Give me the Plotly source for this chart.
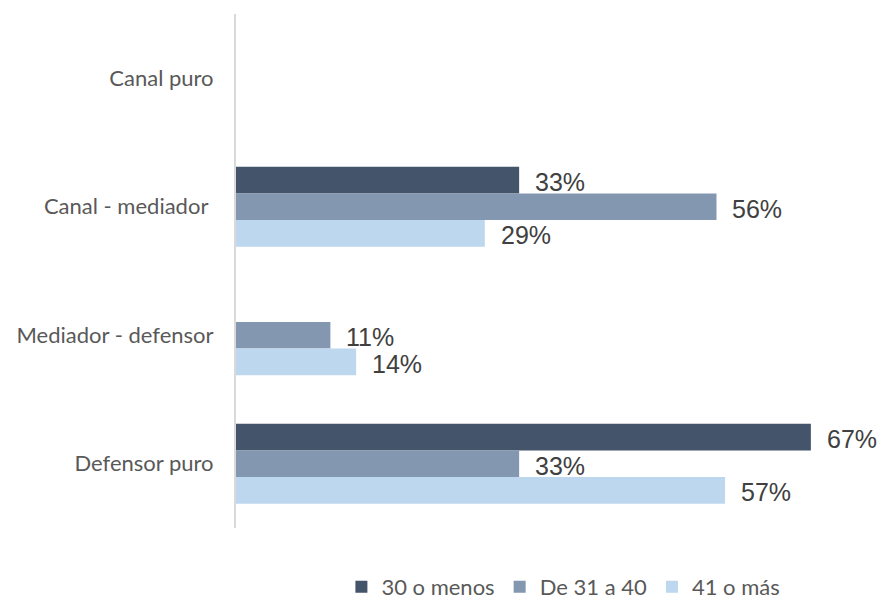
import plotly.graph_objects as go

# Categories (top to bottom) and series values in percent; None = no bar
categories = ["Canal puro", "Canal - mediador", "Mediador - defensor", "Defensor puro"]
category_labels = ["Canal puro", "Canal - mediador\u00a0", "Mediador - defensor", "Defensor puro"]
series_names = ["30 o menos", "De 31 a 40", "41 o más"]
vals_30_menos = [None, 33, None, 67]
vals_31_40 = [None, 56, 11, 33]
vals_41_mas = [None, 29, 14, 57]
colors = ["#44546a", "#8497b0", "#bdd7ee"]

series_values = [vals_30_menos, vals_31_40, vals_41_mas]

fig = go.Figure()
for name, vals, col in zip(series_names, series_values, colors):
    fig.add_trace(go.Bar(
        y=categories, x=vals, name=name, orientation="h",
        marker=dict(color=col, line=dict(width=0)),
        hoverinfo="skip",
    ))

# Value labels placed just past the end of each bar
bar_px = 26.7
shifts = [bar_px, 0, -bar_px]
annotations = []
for vals, shift in zip(series_values, shifts):
    for cat, v in zip(categories, vals):
        if v is None:
            continue
        annotations.append(dict(
            x=v, y=cat, xref="x", yref="y", text=f"{v}%",
            showarrow=False, xanchor="left", yanchor="middle",
            xshift=14, yshift=shift - 2,
            font=dict(family="Liberation Sans, Arial, sans-serif", size=25, color="#404040"),
        ))

fig.update_layout(
    width=881, height=599,
    margin=dict(l=236, r=25, t=14, b=71),
    paper_bgcolor="white", plot_bgcolor="white",
    barmode="group", bargap=0.377, bargroupgap=0,
    annotations=annotations,
    showlegend=True,
    legend=dict(
        orientation="h", x=0.17, xanchor="left",
        yref="container", y=0.055, yanchor="top",
        font=dict(family="Lato, sans-serif", size=22, color="#595959"),
        traceorder="normal", itemclick=False,
    ),
    xaxis=dict(range=[0, 72.26], showgrid=False, zeroline=False,
               showticklabels=False, showline=False, fixedrange=True),
    yaxis=dict(autorange="reversed", type="category",
               categoryarray=categories,
               tickmode="array", tickvals=categories, ticktext=category_labels,
               showgrid=False, zeroline=False,
               showline=True, linecolor="#d9d9d9", linewidth=2,
               ticks="", ticklen=0, ticklabelstandoff=16,
               tickfont=dict(family="Lato, sans-serif", size=22, color="#595959")),
)

fig.write_html("out.html")
